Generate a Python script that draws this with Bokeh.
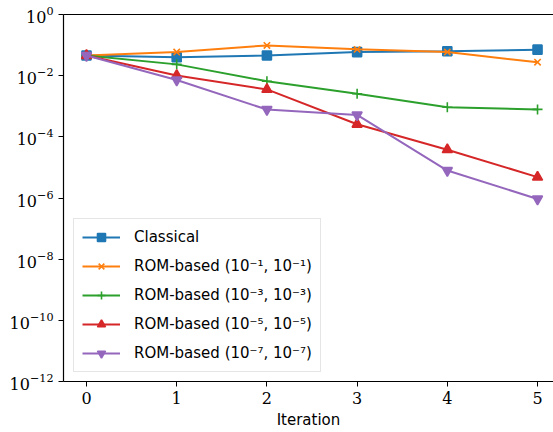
from bokeh.plotting import figure
from bokeh.models import (Range1d, LinearAxis, Legend, LegendItem, FixedTicker)
from bokeh.embed import file_html
from bokeh.resources import INLINE

# Residual per outer iteration for each solver variant
iterations = [0, 1, 2, 3, 4, 5]
classical = [0.0457, 0.0398, 0.0457, 0.0589, 0.0631, 0.0708]
rom_1e1 = [0.0457, 0.0589, 0.0977, 0.0724, 0.0589, 0.0275]
rom_1e3 = [0.0457, 0.0234, 6.6e-3, 2.57e-3, 9.3e-4, 7.9e-4]
rom_1e5 = [0.0457, 0.0102, 3.55e-3, 2.57e-4, 3.8e-5, 4.8e-6]
rom_1e7 = [0.0457, 7.2e-3, 7.8e-4, 5.2e-4, 7.9e-6, 9.3e-7]
y_ticks = [1e0, 1e-2, 1e-4, 1e-6, 1e-8, 1e-10, 1e-12]

labels = [
    "Classical",
    "ROM-based (10\u207b\u00b9, 10\u207b\u00b9)",
    "ROM-based (10\u207b\u00b3, 10\u207b\u00b3)",
    "ROM-based (10\u207b\u2075, 10\u207b\u2075)",
    "ROM-based (10\u207b\u2077, 10\u207b\u2077)",
]
series = [classical, rom_1e1, rom_1e3, rom_1e5, rom_1e7]
colors = ["#1f77b4", "#ff7f0e", "#2ca02c", "#d62728", "#9467bd"]
markers = ["square", "x", "cross", "triangle", "inverted_triangle"]
marker_sizes = [9, 9, 10, 10, 10]

SERIF = "DejaVu Serif"
SANS = "DejaVu Sans"

p = figure(width=553, height=432, y_axis_type="log",
           x_range=Range1d(-0.255, 5.177), y_range=Range1d(1e-12, 1e0),
           output_backend="svg", toolbar_location=None,
           min_border_left=63, min_border_right=0, min_border_top=14,
           min_border_bottom=51)
p.outline_line_color = None
p.xgrid.visible = False
p.ygrid.visible = False

items = []
for lab, ys, c, m, s in zip(labels, series, colors, markers, marker_sizes):
    ln = p.line(iterations, ys, line_color=c, line_width=2)
    sc = p.scatter(iterations, ys, marker=m, size=s, fill_color=c,
                   line_color=c, line_width=1.6)
    items.append(LegendItem(label=lab, renderers=[ln, sc]))

# axes
p.xaxis.ticker = FixedTicker(ticks=iterations)
p.xaxis.axis_label = "Iteration"
p.yaxis.ticker = FixedTicker(ticks=y_ticks)
for ax in (p.xaxis[0], p.yaxis[0]):
    ax.axis_line_color = "black"
    ax.axis_line_width = 1.2
    ax.major_tick_line_color = "black"
    ax.major_tick_out = 5
    ax.major_tick_in = 0
    ax.minor_tick_line_color = None
    ax.major_label_text_font = SERIF
    ax.major_label_text_font_size = "16px"
    ax.major_label_text_color = "black"
    ax.axis_label_text_font = SANS
    ax.axis_label_text_font_size = "15px"
    ax.axis_label_text_font_style = "normal"
    ax.axis_label_text_color = "black"
p.xaxis.major_label_standoff = 5
p.xaxis.axis_label_standoff = 4
p.yaxis.major_label_standoff = 5

# top spine: an axis line only, no ticks and no labels
top = LinearAxis(ticker=FixedTicker(ticks=[]), major_tick_line_color=None,
                 minor_tick_line_color=None, axis_line_color="black",
                 axis_line_width=1.2)
p.add_layout(top, "above")

legend = Legend(items=items, location=(10, 9))
legend.label_text_font = SANS
legend.label_text_font_size = "15px"
legend.label_text_color = "black"
legend.glyph_width = 38
legend.glyph_height = 20
legend.label_height = 20
legend.spacing = 9
legend.padding = 8
legend.margin = 0
legend.label_standoff = 14
legend.border_line_color = "#cccccc"
legend.border_line_width = 1
legend.background_fill_alpha = 0.8
p.add_layout(legend, "center")

open("out.html", "w").write(file_html(p, INLINE))
